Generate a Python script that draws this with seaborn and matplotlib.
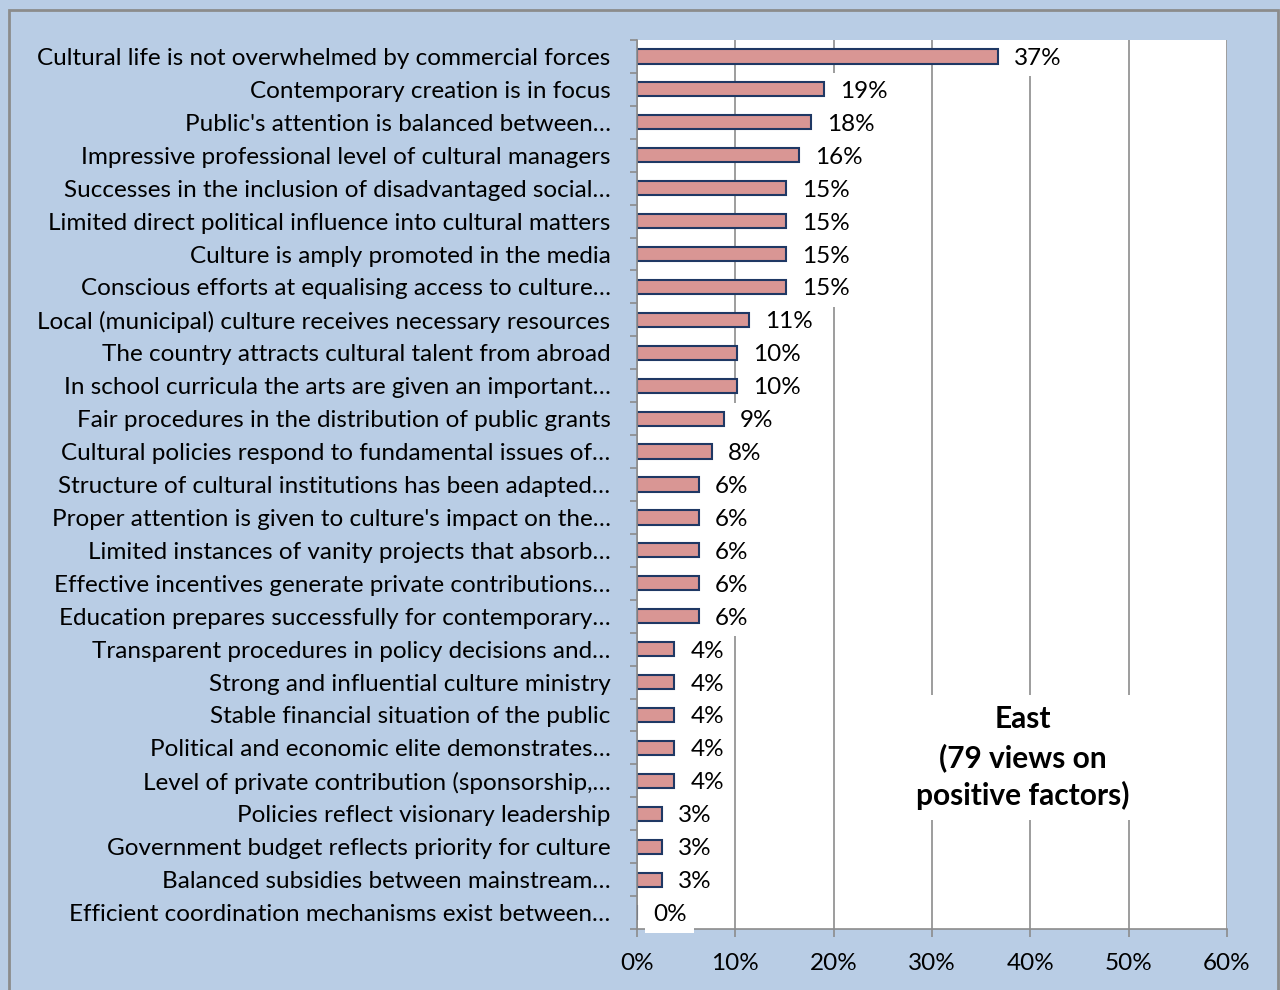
import matplotlib
matplotlib.use("Agg")
import matplotlib.pyplot as plt
from matplotlib.patches import Rectangle
from matplotlib.ticker import FixedLocator, PercentFormatter
import seaborn as sns
import pandas as pd

factors = [
    "Cultural life is not overwhelmed by commercial forces",
    "Contemporary creation is in focus",
    "Public's attention is balanced between…",
    "Impressive professional level of cultural managers",
    "Successes in the inclusion of disadvantaged social…",
    "Limited direct political influence into cultural matters",
    "Culture is amply promoted in the media",
    "Conscious efforts at equalising access to culture…",
    "Local (municipal) culture receives necessary resources",
    "The country attracts cultural talent from abroad",
    "In school curricula the arts are given an important…",
    "Fair procedures in the distribution of public grants",
    "Cultural policies respond to fundamental issues of…",
    "Structure of cultural institutions has been adapted…",
    "Proper attention is given to culture's impact on the…",
    "Limited instances of vanity projects that absorb…",
    "Effective incentives generate private contributions…",
    "Education prepares successfully for contemporary…",
    "Transparent procedures in policy decisions and…",
    "Strong and influential culture ministry",
    "Stable financial situation of the public",
    "Political and economic elite demonstrates…",
    "Level of private contribution (sponsorship,…",
    "Policies reflect visionary leadership",
    "Government budget reflects priority for culture",
    "Balanced subsidies between mainstream…",
    "Efficient coordination mechanisms exist between…",
]
# share of the 79 views, in percent
share = [36.71, 18.99, 17.72, 16.46, 15.19, 15.19, 15.19, 15.19, 11.39, 10.13, 10.13,
         8.86, 7.59, 6.33, 6.33, 6.33, 6.33, 6.33, 3.80, 3.80, 3.80, 3.80, 3.80,
         2.53, 2.53, 2.53, 0.0]
x_ticks = [0, 10, 20, 30, 40, 50, 60]
panel_note = "East\n(79 views on\npositive factors)"

df = pd.DataFrame({"factor": factors, "share": share})

sns.set_theme(style="white")
plt.rcParams["font.family"] = ["Lato", "DejaVu Sans"]

bg = "#B9CDE5"
grey = "#8C8C8C"

fig = plt.figure(figsize=(12.8, 9.9), dpi=100, facecolor=bg)
ax = fig.add_axes([637 / 1280, 1 - 929 / 990, 590 / 1280, 889 / 990])
ax.set_facecolor("white")

ax.xaxis.grid(True, color=grey, linewidth=1.2)
ax.set_axisbelow(True)

sns.barplot(data=df, x="share", y="factor", orient="h", color="#D99694",
            saturation=1, edgecolor="#1F3864", linewidth=1.5, width=0.43, ax=ax)

ax.set_xlim(0, 60)
ax.set_ylim(len(factors) - 0.5, -0.5)
ax.xaxis.set_major_locator(FixedLocator(x_ticks))
ax.xaxis.set_major_formatter(PercentFormatter(decimals=0))
ax.set_xlabel("")
ax.set_ylabel("")

for side in ["top", "right"]:
    ax.spines[side].set_visible(False)
for side in ["left", "bottom"]:
    ax.spines[side].set_color(grey)
    ax.spines[side].set_linewidth(1.2)

ax.tick_params(axis="x", which="major", direction="out", length=6, width=1.2,
               color=grey, pad=11, labelsize=17.5, labelcolor="black", bottom=True)
ax.tick_params(axis="y", which="major", length=0, pad=19, labelsize=17.5, labelcolor="black")
ax.yaxis.set_minor_locator(FixedLocator([i - 0.5 for i in range(len(factors) + 1)]))
ax.tick_params(axis="y", which="minor", direction="out", length=5, width=1.2,
               color=grey, left=True)

# value labels sit on white boxes that hide the gridlines behind them
for i, v in enumerate(share):
    ax.annotate(f"{v:.0f}%", xy=(v, i), xytext=(16, -2), textcoords="offset pixels",
                ha="left", va="center", fontsize=17.5, color="black",
                bbox=dict(facecolor="white", edgecolor="none", pad=5.5))

ax.text(39.2, 21.3, panel_note, ha="center", va="center", fontsize=21.5,
        fontweight="bold", linespacing=1.4, color="black",
        bbox=dict(facecolor="white", edgecolor="none", pad=7))

fig.add_artist(Rectangle((9 / 1280, -0.01), 1 - 11 / 1280, 1 - 10 / 990 + 0.01,
                         transform=fig.transFigure, fill=False,
                         edgecolor=grey, linewidth=2))

fig.savefig("out.png", dpi=100, facecolor=bg)
